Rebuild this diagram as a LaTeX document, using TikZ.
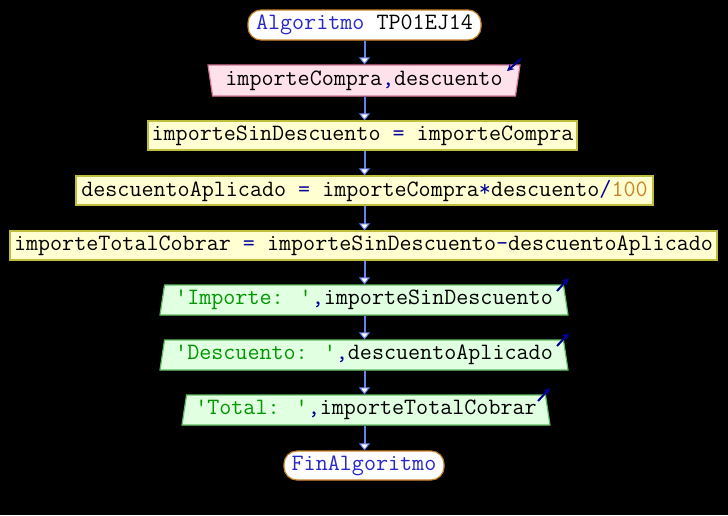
\documentclass[tikz,border=0pt]{standalone}
\usepackage{fontspec}
\usetikzlibrary{shapes.geometric,arrows.meta}
\definecolor{psblue}{RGB}{40,40,200}
\definecolor{psop}{RGB}{0,0,150}
\definecolor{psgreen}{RGB}{0,150,0}
\definecolor{psnum}{RGB}{200,130,40}
\definecolor{flowblue}{RGB}{100,130,240}
\definecolor{termline}{RGB}{200,130,40}
\definecolor{inpfill}{RGB}{255,225,235}
\definecolor{inpline}{RGB}{215,120,150}
\definecolor{asgfill}{RGB}{255,255,210}
\definecolor{asgline}{RGB}{190,190,60}
\definecolor{outfill}{RGB}{225,255,225}
\definecolor{outline}{RGB}{100,190,100}
\newcommand{\kw}[1]{\textcolor{psblue}{#1}}
\newcommand{\op}[1]{\textcolor{psop}{#1}}
\newcommand{\cad}[1]{\textcolor{psgreen}{#1}}
\newcommand{\num}[1]{\textcolor{psnum}{#1}}
\newcommand{\apos}{\textquotesingle}

\begin{document}
\begin{tikzpicture}[x=1pt,y=-1pt,>=Stealth,
    font=\ttfamily\fontsize{23.4}{28}\selectfont,
    term/.style={draw=termline,line width=1.2pt,fill=white,rounded corners=13pt,
        minimum height=30pt,inner sep=0pt},
    inbox/.style={trapezium,shape border rotate=180,trapezium angle=77,
        trapezium stretches body=true,draw=inpline,line width=1.2pt,fill=inpfill,
        minimum height=31pt,inner sep=0pt},
    asg/.style={draw=asgline,line width=1.2pt,fill=asgfill,minimum height=29pt,inner sep=0pt},
    outbox/.style={trapezium,trapezium angle=77,trapezium stretches body=true,
        draw=outline,line width=1.2pt,fill=outfill,minimum height=30pt,inner sep=0pt},
    flow/.style={draw=flowblue,line width=2pt,
        -{Triangle[fill=white,line width=1pt,length=7pt,width=11pt]}},
    io/.style={draw=psop,line width=2pt,-{Stealth[length=7pt,width=7pt]}}]

    % background
    \fill[black] (0,0) rectangle (728,515);

    % blocks
    \node[term,minimum width=233pt] (ini) at (364.5,25) {\kw{Algoritmo} TP01EJ14};
    \node[inbox,minimum width=312pt] (leer) at (364,80.5) {importeCompra\op{,}descuento};
    \node[asg,minimum width=429pt] (a1) at (362.5,135.5)
        {importeSinDescuento \op{=} importeCompra};
    \node[asg,minimum width=577pt] (a2) at (364.5,190.5)
        {descuentoAplicado \op{=} importeCompra\op{*}descuento\op{/}\num{100}};
    \node[asg,minimum width=707pt] (a3) at (363.5,245.5)
        {importeTotalCobrar \op{=} importeSinDescuento\op{-}descuentoAplicado};
    \node[outbox,minimum width=408pt] (e1) at (364,300)
        {\cad{\apos Importe: \apos}\op{,}importeSinDescuento};
    \node[outbox,minimum width=408pt] (e2) at (364,355)
        {\cad{\apos Descuento: \apos}\op{,}descuentoAplicado};
    \node[outbox,minimum width=368pt] (e3) at (366,410)
        {\cad{\apos Total: \apos}\op{,}importeTotalCobrar};
    \node[term,minimum width=160pt,minimum height=29pt] (fin) at (364,465.5) {\kw{FinAlgoritmo}};

    % connectors
    \draw[flow] (ini.south) -- (ini.south |- leer.north);
    \draw[flow] (ini.south |- leer.south) -- (ini.south |- a1.north);
    \draw[flow] (ini.south |- a1.south) -- (ini.south |- a2.north);
    \draw[flow] (ini.south |- a2.south) -- (ini.south |- a3.north);
    \draw[flow] (ini.south |- a3.south) -- (ini.south |- e1.north);
    \draw[flow] (ini.south |- e1.south) -- (ini.south |- e2.north);
    \draw[flow] (ini.south |- e2.south) -- (ini.south |- e3.north);
    \draw[flow] (ini.south |- e3.south) -- (ini.south |- fin.north);

    % read / write marks
    \draw[io] (521,59) -- (507,71);
    \draw[io] (557,291) -- (569,278);
    \draw[io] (557,346) -- (569,333);
    \draw[io] (538,401) -- (550,388);
\end{tikzpicture}
\end{document}
